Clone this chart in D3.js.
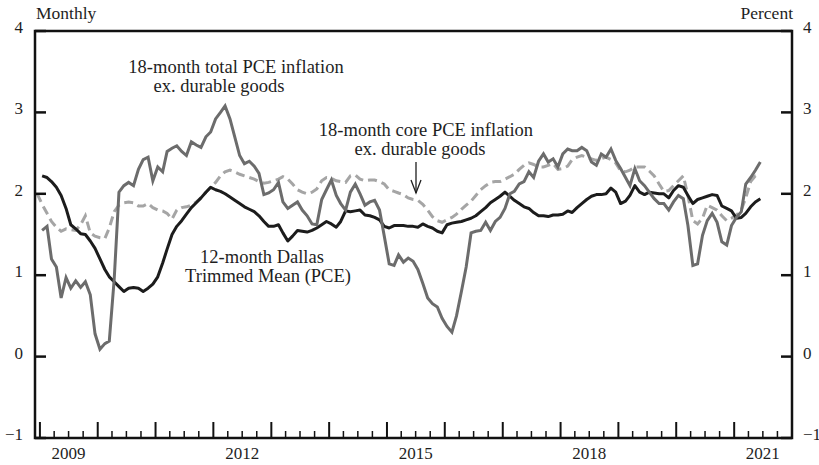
<!DOCTYPE html>
<html>
<head>
<meta charset="utf-8">
<script src="https://cdn.jsdelivr.net/npm/d3@7"></script>
<style>
body { margin: 0; background: #fff; }
svg text { font-family: "Liberation Serif", "DejaVu Serif", serif; fill: #1e1e1e; }
</style>
</head>
<body>
<svg width="819" height="465"></svg>
<script>
// monthly values, Jan 2009 - Jun 2021
var trimmedMean = [
  2.22, 2.20, 2.15, 2.08, 1.98, 1.82, 1.62, 1.57, 1.51, 1.50, 1.42, 1.33,
  1.20, 1.07, 0.98, 0.92, 0.86, 0.80, 0.84, 0.85, 0.84, 0.80, 0.84, 0.89,
  0.98, 1.15, 1.32, 1.50, 1.60, 1.67, 1.75, 1.83, 1.89, 1.95, 2.02, 2.08,
  2.05, 2.03, 2.00, 1.96, 1.92, 1.88, 1.84, 1.81, 1.78, 1.73, 1.66, 1.60,
  1.60, 1.62, 1.52, 1.42, 1.48, 1.55, 1.54, 1.53, 1.55, 1.58, 1.62, 1.66,
  1.63, 1.59, 1.66, 1.79, 1.78, 1.79, 1.80, 1.74, 1.73, 1.71, 1.68, 1.60,
  1.58, 1.61, 1.61, 1.61, 1.60, 1.60, 1.59, 1.63, 1.60, 1.58, 1.54, 1.52,
  1.62, 1.64, 1.65, 1.66, 1.68, 1.70, 1.73, 1.78, 1.83, 1.89, 1.93, 1.97,
  2.02, 1.97, 1.92, 1.88, 1.84, 1.82, 1.77, 1.73, 1.73, 1.72, 1.74, 1.74,
  1.75, 1.79, 1.77, 1.83, 1.88, 1.93, 1.97, 1.99, 1.99, 2.00, 2.07, 2.02,
  1.88, 1.91, 1.98, 2.10, 2.02, 1.99, 2.02, 2.01, 2.00, 2.00, 1.95, 2.04,
  2.10, 2.08, 1.98, 1.88, 1.93, 1.95, 1.97, 1.99, 1.98, 1.85, 1.82, 1.79,
  1.70, 1.71, 1.76, 1.84, 1.90, 1.94
];

// monthly values, Jan 2009 - Jun 2021
var totalExDurables = [
  1.55, 1.60, 1.20, 1.10, 0.72, 0.97, 0.84, 0.93, 0.85, 0.92, 0.76, 0.28,
  0.09, 0.16, 0.19, 0.95, 2.02, 2.10, 2.14, 2.10, 2.30, 2.42, 2.45, 2.16,
  2.33, 2.27, 2.52, 2.56, 2.59, 2.52, 2.47, 2.64, 2.60, 2.57, 2.70, 2.76,
  2.92, 3.00, 3.08, 2.92, 2.70, 2.47, 2.37, 2.40, 2.34, 2.25, 1.99, 2.01,
  2.05, 2.14, 1.90, 1.82, 1.86, 1.90, 1.80, 1.73, 1.63, 1.62, 1.93, 2.05,
  2.17, 1.98, 1.88, 1.80, 2.02, 2.12, 2.00, 1.86, 1.90, 1.92, 1.80, 1.48,
  1.14, 1.12, 1.25, 1.16, 1.21, 1.17, 1.07, 0.90, 0.72, 0.65, 0.61, 0.47,
  0.37, 0.30, 0.50, 0.80, 1.10, 1.52, 1.54, 1.55, 1.65, 1.55, 1.66, 1.71,
  1.82, 2.00, 2.03, 2.12, 2.15, 2.27, 2.20, 2.40, 2.49, 2.39, 2.43, 2.33,
  2.49, 2.55, 2.53, 2.53, 2.57, 2.53, 2.39, 2.35, 2.49, 2.45, 2.55, 2.41,
  2.31, 2.20, 2.10, 2.31, 2.16, 2.10, 2.02, 1.94, 1.88, 1.88, 1.80, 1.90,
  1.98, 1.94, 1.61, 1.12, 1.14, 1.49, 1.67, 1.76, 1.65, 1.41, 1.37, 1.61,
  1.71, 1.78, 2.12, 2.20, 2.29, 2.39
];

// monthly values, Dec 2008 - Jun 2021
var coreExDurables = [
  2.00,
  1.87, 1.76, 1.66, 1.59, 1.54, 1.57, 1.56, 1.55, 1.62, 1.73, 1.52, 1.48,
  1.46, 1.45, 1.58, 1.78, 1.86, 1.89, 1.90, 1.89, 1.85, 1.85, 1.88, 1.83,
  1.80, 1.79, 1.76, 1.69, 1.80, 1.83, 1.84, 1.86, 1.90, 1.95, 2.02, 2.08,
  2.14, 2.22, 2.27, 2.29, 2.27, 2.24, 2.22, 2.20, 2.18, 2.15, 2.13, 2.14,
  2.16, 2.18, 2.21, 2.18, 2.12, 2.05, 2.02, 2.00, 2.02, 2.06, 2.16, 2.20,
  2.19, 2.16, 2.15, 2.14, 2.22, 2.23, 2.18, 2.16, 2.17, 2.17, 2.15, 2.12,
  2.05, 2.03, 2.01, 1.99, 1.95, 1.93, 1.92, 1.87, 1.80, 1.72, 1.67, 1.65,
  1.68, 1.71, 1.75, 1.81, 1.86, 1.91, 1.98, 2.05, 2.10, 2.14, 2.15, 2.15,
  2.18, 2.21, 2.24, 2.30, 2.35, 2.38, 2.36, 2.33, 2.33, 2.35, 2.37, 2.30,
  2.31, 2.34, 2.42, 2.45, 2.47, 2.45, 2.43, 2.41, 2.43, 2.45, 2.42, 2.38,
  2.28, 2.27, 2.29, 2.33, 2.33, 2.33, 2.28, 2.22, 2.12, 2.03, 2.04, 2.10,
  2.16, 2.22, 1.98, 1.67, 1.63, 1.70, 1.86, 1.83, 1.80, 1.73, 1.67, 1.70,
  1.74, 1.80, 1.95, 2.15, 2.22, 2.22
];

var yTicks = [-1, 0, 1, 2, 3, 4];
var yearLabels = [2009, 2012, 2015, 2018, 2021];

var svg = d3.select("svg");

var plotLeft = 35, plotRight = 792, plotTop = 31, plotBottom = 438;

var x = d3.scaleTime()
    .domain([new Date(2008, 11, 1), new Date(2022, 0, 1)])
    .range([plotLeft, plotRight]);

var y = d3.scaleLinear()
    .domain([-1, 4])
    .range([plotBottom, plotTop]);

function monthly(values, startYear, startMonth) {
  return values.map(function(v, i) {
    return {date: new Date(startYear, startMonth + i, 15), v: v};
  });
}

var line = d3.line()
    .x(function(d) { return x(d.date); })
    .y(function(d) { return y(d.v); });

svg.append("clipPath").attr("id", "plot")
  .append("rect")
    .attr("x", plotLeft).attr("y", plotTop)
    .attr("width", plotRight - plotLeft).attr("height", plotBottom - plotTop);

var g = svg.append("g").attr("clip-path", "url(#plot)");

g.append("path")
    .datum(monthly(coreExDurables, 2008, 11))
    .attr("d", line)
    .attr("fill", "none")
    .attr("stroke", "#a5a5a5")
    .attr("stroke-width", 3)
    .attr("stroke-dasharray", "9,5");

g.append("path")
    .datum(monthly(trimmedMean, 2009, 0))
    .attr("d", line)
    .attr("fill", "none")
    .attr("stroke", "#1c1c1c")
    .attr("stroke-width", 3)
    .attr("stroke-linejoin", "round");

g.append("path")
    .datum(monthly(totalExDurables, 2009, 0))
    .attr("d", line)
    .attr("fill", "none")
    .attr("stroke", "#6c6c6c")
    .attr("stroke-width", 3);

// frame
var frame = svg.append("g").attr("stroke", "#111").attr("fill", "none");
frame.append("path")
    .attr("d", "M" + plotLeft + "," + plotBottom + "V" + plotTop + "H" + plotRight + "V" + plotBottom + "Z")
    .attr("stroke-width", 2.5);

// y ticks, both sides, pointing inward
yTicks.forEach(function(t) {
  frame.append("line")
    .attr("x1", plotLeft).attr("x2", plotLeft + 11)
    .attr("y1", y(t)).attr("y2", y(t))
    .attr("stroke-width", 2.5);
  frame.append("line")
    .attr("x1", plotRight - 11).attr("x2", plotRight)
    .attr("y1", y(t)).attr("y2", y(t))
    .attr("stroke-width", 2.5);
});

var ylabels = svg.append("g").style("font-size", "17px");
yTicks.forEach(function(t) {
  var txt = t < 0 ? "\u2212" + Math.abs(t) : String(t);
  ylabels.append("text")
    .attr("x", 23).attr("y", y(t) + 2)
    .attr("text-anchor", "end")
    .text(txt);
  ylabels.append("text")
    .attr("x", 803).attr("y", y(t) + 2)
    .attr("text-anchor", "start")
    .text(txt);
});

// x ticks: quarterly minor, yearly major, pointing up
var quarters = d3.timeMonth.every(3).range(new Date(2009, 0, 1), new Date(2022, 0, 1));
quarters.forEach(function(d) {
  var major = d.getMonth() === 0;
  frame.append("line")
    .attr("x1", x(d)).attr("x2", x(d))
    .attr("y1", plotBottom).attr("y2", plotBottom - (major ? 16 : 7))
    .attr("stroke-width", major ? 2 : 1.5);
});

// year labels sit mid-year
var xlabels = svg.append("g").style("font-size", "17px");
yearLabels.forEach(function(yr) {
  xlabels.append("text")
    .attr("x", x(new Date(yr, 6, 1)))
    .attr("y", 459)
    .attr("text-anchor", "middle")
    .text(yr);
});

svg.append("text").attr("x", 36).attr("y", 19).style("font-size", "17.5px").text("Monthly");
svg.append("text").attr("x", 793).attr("y", 19).attr("text-anchor", "end").style("font-size", "17.5px").text("Percent");

// annotations
var notes = svg.append("g").style("font-size", "18.5px").attr("text-anchor", "middle");
notes.append("text").attr("x", 236).attr("y", 73).text("18-month total PCE inflation");
notes.append("text").attr("x", 219).attr("y", 92).text("ex. durable goods");
notes.append("text").attr("x", 426).attr("y", 136).text("18-month core PCE inflation");
notes.append("text").attr("x", 420).attr("y", 155).text("ex. durable goods");
notes.append("text").attr("x", 262).attr("y", 263).text("12-month Dallas");
notes.append("text").attr("x", 268).attr("y", 282).text("Trimmed Mean (PCE)");

var arrow = svg.append("g").attr("stroke", "#1e1e1e").attr("fill", "none").attr("stroke-width", 1.3);
arrow.append("line").attr("x1", 416).attr("x2", 416).attr("y1", 162).attr("y2", 193);
arrow.append("path").attr("d", "M411,180L416,193L421,180");
</script>
</body>
</html>
